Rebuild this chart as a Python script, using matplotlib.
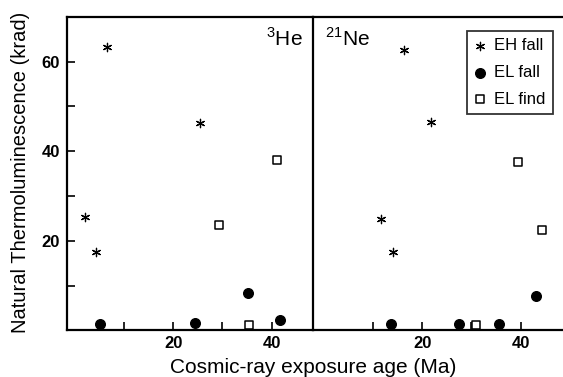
import matplotlib
matplotlib.use("Agg")
import matplotlib.pyplot as plt

plt.rcParams['font.family'] = ['Liberation Sans', 'DejaVu Sans']
plt.rcParams['mathtext.fontset'] = 'custom'
plt.rcParams['mathtext.rm'] = 'Liberation Sans'

# 3He panel
he_eh_x = [6.5, 2.0, 4.2, 25.4]
he_eh_y = [63.2, 25.2, 17.4, 46.3]
he_elfall_x = [5.2, 24.4, 41.7, 35.2]
he_elfall_y = [1.45, 1.7, 2.2, 8.3]
he_elfind_x = [35.4, 41.1, 29.3]
he_elfind_y = [1.2, 38.0, 23.5]

# 21Ne panel
ne_eh_x = [16.3, 21.7, 11.6, 14.1]
ne_eh_y = [62.6, 46.4, 24.8, 17.4]
ne_elfall_x = [13.7, 27.5, 35.6, 43.1]
ne_elfall_y = [1.45, 1.45, 1.45, 7.7]
ne_elfind_x = [30.9, 39.5, 44.3]
ne_elfind_y = [1.2, 37.5, 22.5]

panel_labels = ["$^{3}$He", "$^{21}$Ne"]
legend_labels = ["EH fall", "EL fall", "EL find"]
x_ticks = [10, 20, 30, 40]
x_ticklabels = ["", "20", "", "40"]
y_ticks = [10, 20, 30, 40, 50, 60]
y_ticklabels = ["", "20", "", "40", "", "60"]

fig = plt.figure(figsize=(5.63, 3.77), dpi=100)
ax1 = fig.add_axes([67/563, 1-330.3/377, 246/563, 313.6/377])
ax2 = fig.add_axes([313/563, 1-330.3/377, 250/563, 313.6/377])

asterisk = (6, 2, 0)

def draw(ax, ehx, ehy, fx, fy, dx, dy):
    ax.scatter(ehx, ehy, marker=asterisk, s=36, color='black', linewidths=0.9, label=legend_labels[0])
    ax.scatter(fx, fy, marker='o', s=48, color='black', label=legend_labels[1])
    ax.scatter(dx, dy, marker='s', s=36, facecolors='white', edgecolors='black', linewidths=1.1, label=legend_labels[2])
    ax.set_ylim(0, 70)
    ax.set_xticks(x_ticks)
    ax.set_xticklabels(x_ticklabels, fontsize=12, fontweight='bold')
    ax.tick_params(axis='x', direction='in', length=6, width=1.2, pad=4)
    for s in ax.spines.values():
        s.set_linewidth(1.6)

draw(ax1, he_eh_x, he_eh_y, he_elfall_x, he_elfall_y, he_elfind_x, he_elfind_y)
draw(ax2, ne_eh_x, ne_eh_y, ne_elfall_x, ne_elfall_y, ne_elfind_x, ne_elfind_y)

ax1.set_xlim(-1.6, 48.4)
ax2.set_xlim(-2.2, 48.6)

ax1.set_yticks(y_ticks)
ax1.set_yticklabels(y_ticklabels, fontsize=12, fontweight='bold')
ax1.tick_params(axis='y', direction='in', length=6, width=1.2, pad=5)
ax1.spines['right'].set_visible(False)

ax2.set_yticks([])
ax2.spines['right'].set_visible(False)

ax1.text(0.96, 0.965, panel_labels[0], transform=ax1.transAxes, ha='right', va='top', fontsize=15)
ax2.text(0.048, 0.965, panel_labels[1], transform=ax2.transAxes, ha='left', va='top', fontsize=15)

leg = ax2.legend(loc='upper right', bbox_to_anchor=(0.96, 0.955), fontsize=12,
                 frameon=True, fancybox=False, edgecolor='black', handlelength=0.7,
                 handletextpad=0.5, borderpad=0.45, labelspacing=0.7, borderaxespad=0)
leg.get_frame().set_linewidth(1.3)

fig.text(313/563, 0.025, "Cosmic-ray exposure age (Ma)", ha='center', va='center', fontsize=15)
fig.text(0.037, 1-172/377, "Natural Thermoluminescence (krad)", ha='center', va='center',
         rotation=90, fontsize=14.5)

fig.savefig("out.png", dpi=100)
